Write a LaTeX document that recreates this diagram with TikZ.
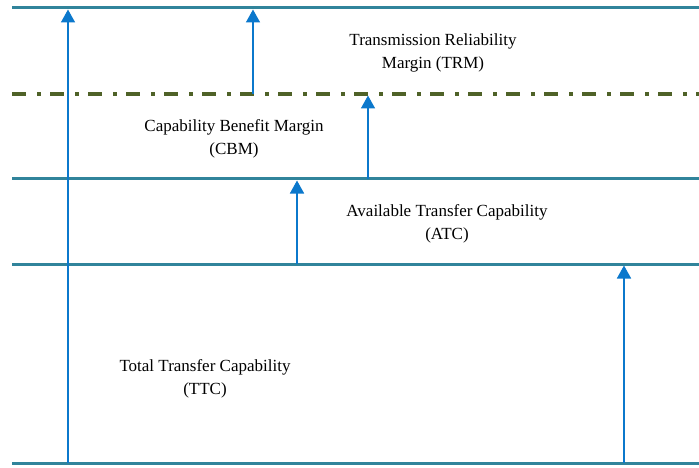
\documentclass[tikz,border=0pt]{standalone}
\usepackage{fontspec}
\setmainfont{Liberation Serif}
\usetikzlibrary{arrows.meta}
\definecolor{levelteal}{HTML}{31849B}
\definecolor{arrowblue}{HTML}{0B78CC}
\definecolor{olivedash}{HTML}{4F6228}
\begin{document}
\begin{tikzpicture}[x=1pt,y=-1pt,
  level/.style={draw=levelteal,line width=3pt},
  margin/.style={draw=olivedash,line width=3.2pt,dash pattern=on 14pt off 11pt on 3.5pt off 9.5pt},
  rise/.style={draw=arrowblue,line width=1.7pt,-{Triangle[width=14pt,length=13pt]}},
  label/.style={align=center,font=\fontsize{17}{23}\selectfont,inner sep=0pt}]
\useasboundingbox (0,0) rectangle (699,468);
% horizontal levels
\coordinate (topL) at (12,8);      \coordinate (topR) at (699,8);
\coordinate (midL) at (12,94);     \coordinate (midR) at (699,94);
\coordinate (atcL) at (12,179);    \coordinate (atcR) at (699,179);
\coordinate (ttcL) at (12,264);    \coordinate (ttcR) at (699,264);
\coordinate (botL) at (12,463);    \coordinate (botR) at (699,463);
\draw[level] (topL) -- (topR);
\draw[margin] (midL) -- (midR);
\draw[level] (atcL) -- (atcR);
\draw[level] (ttcL) -- (ttcR);
\draw[level] (botL) -- (botR);
% arrow ends
\coordinate (a1s) at (68,463);  \coordinate (a1e) at (68,9.5);
\coordinate (a2s) at (253,94);  \coordinate (a2e) at (253,9.5);
\coordinate (a3s) at (368,179); \coordinate (a3e) at (368,95.5);
\coordinate (a4s) at (297,264); \coordinate (a4e) at (297,180.5);
\coordinate (a5s) at (624,463); \coordinate (a5e) at (624,265.5);
\draw[rise] (a1s) -- (a1e);
\draw[rise] (a2s) -- (a2e);
\draw[rise] (a3s) -- (a3e);
\draw[rise] (a4s) -- (a4e);
\draw[rise] (a5s) -- (a5e);
% labels
\node[label] (trm) at (433,53) {Transmission Reliability\\Margin (TRM)};
\node[label] (cbm) at (234,139) {Capability Benefit Margin\\(CBM)};
\node[label] (atc) at (447,224) {Available Transfer Capability\\(ATC)};
\node[label] (ttc) at (205,379) {Total Transfer Capability\\(TTC)};
\end{tikzpicture}
\end{document}
